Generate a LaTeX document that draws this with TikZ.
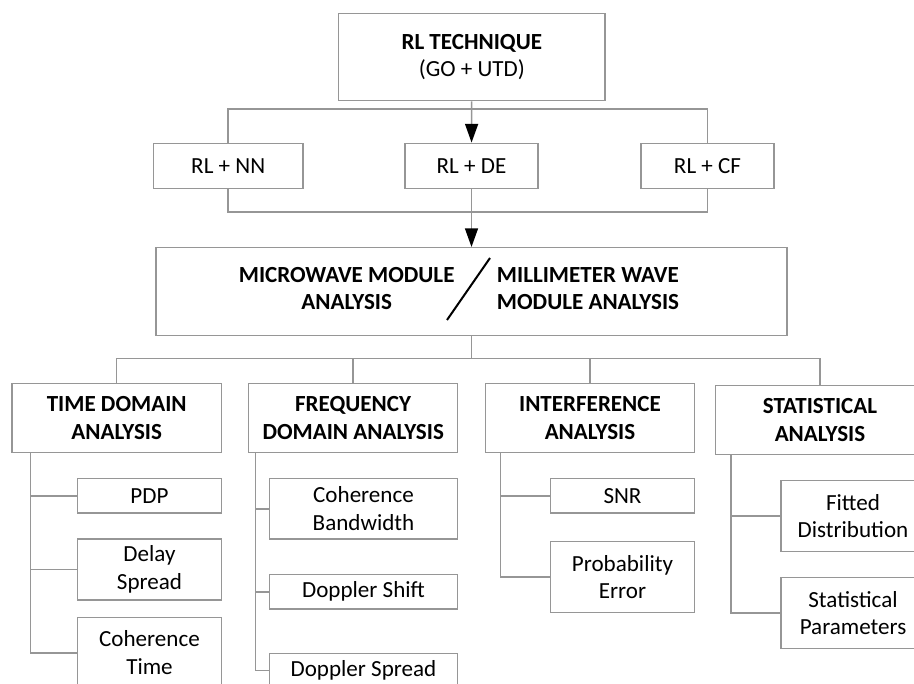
\documentclass[tikz,border=0pt]{standalone}
\usepackage{fontspec}
\setmainfont{Carlito}
\usetikzlibrary{arrows.meta}
\definecolor{linegray}{RGB}{150,150,150}
\newcommand{\fsz}{\fontsize{17.3}{20.8}\selectfont}
\tikzset{
  bx/.style 2 args={draw=linegray, line width=1.1pt, minimum width=#1*0.75pt, minimum height=#2*0.75pt, inner sep=0pt, align=center, font=\fsz, text=black},
  conn/.style={draw=linegray, line width=1.1pt},
  arr/.style={conn, -{Triangle[width=9.75pt,length=14pt,fill=black,color=black]}},
  txt/.style={inner sep=0pt, font=\fsz\bfseries, text=black}
}
\begin{document}
\begin{tikzpicture}[x=0.75pt,y=-0.75pt]
\useasboundingbox (0,0) rectangle (914,684);
\clip (0,0) rectangle (914,684);
% top level
\node[bx={266.4}{87.4}] (top) at (471.8,57) {\textbf{RL TECHNIQUE}\\(GO + UTD)};
\node[bx={149.6}{45}] (nn) at (228.2,165.8) {RL + NN};
\node[bx={133}{45}] (de) at (471.5,165.8) {RL + DE};
\node[bx={133}{45}] (cf) at (707.5,165.8) {RL + CF};
\coordinate (bus1) at (471.5,109);
\coordinate (bus2) at (471.5,212);
\draw[conn] (nn.north) |- (bus1) -| (cf.north);
\draw[conn] (nn.south) |- (bus2) -| (cf.south);
\draw[arr] (top) -- (de);
% module box
\node[bx={631}{88}] (mw) at (471.5,291.7) {};
\draw[arr] (de) -- (mw);
\node[txt, align=center] (mwl) at (346.7,288.5) {MICROWAVE MODULE\\ANALYSIS};
\node[txt, align=left, anchor=west] (mwr) at (496.7,288.5) {MILLIMETER WAVE\\MODULE ANALYSIS};
\draw[black, line width=1.5pt] (447,320) -- (490,258);
% second level
\node[bx={209.3}{69}] (time) at (116.7,417.8) {\textbf{TIME DOMAIN}\\\textbf{ANALYSIS}};
\node[bx={209}{69}] (freq) at (353.2,417.8) {\textbf{FREQUENCY}\\\textbf{DOMAIN ANALYSIS}};
\node[bx={208.6}{69}] (intf) at (590,417.8) {\textbf{INTERFERENCE}\\\textbf{ANALYSIS}};
\node[bx={208.6}{68.6}] (stat) at (820,420) {\textbf{STATISTICAL}\\\textbf{ANALYSIS}};
\coordinate (bus3) at (471.5,358.3);
\draw[conn] (mw.south) -- (bus3);
\draw[conn] (time.north) |- (bus3) -| (stat.north);
\draw[conn] (freq.north) -- (freq.north |- bus3);
\draw[conn] (intf.north) -- (intf.north |- bus3);
% time domain
\node[bx={143.6}{34.3}] (pdp) at (149.5,495.8) {PDP};
\node[bx={143.6}{61}] (delay) at (149.5,569.5) {Delay\\Spread};
\node[bx={143.6}{71}] (coht) at (149.5,652.8) {Coherence\\Time};
\coordinate (tt) at (30.3,452.3);
\draw[conn] (tt) |- (pdp);
\draw[conn] (tt) |- (delay);
\draw[conn] (tt) |- (coht);
% frequency domain
\node[bx={188.4}{60.3}] (cohb) at (363.5,508.8) {Coherence\\Bandwidth};
\node[bx={188.4}{34.3}] (dshift) at (363.5,591.8) {Doppler Shift};
\node[bx={188.4}{34.3}] (dspread) at (363.5,670.5) {Doppler Spread};
\coordinate (ft) at (255.7,452.3);
\draw[conn] (ft) |- (cohb);
\draw[conn] (ft) |- (dshift);
\draw[conn] (ft) |- (dspread);
% interference
\node[bx={143.6}{34.3}] (snr) at (622.5,495.8) {SNR};
\node[bx={143.6}{70.6}] (prob) at (622.5,577) {Probability\\Error};
\coordinate (it) at (500.7,452.3);
\draw[conn] (it) |- (snr);
\draw[conn] (it) |- (prob);
% statistical
\node[bx={144}{71}] (fit) at (853,516.2) {Fitted\\Distribution};
\node[bx={144}{70.6}] (spar) at (853,613) {Statistical\\Parameters};
\coordinate (st) at (731,454.3);
\draw[conn] (st) |- (fit);
\draw[conn] (st) |- (spar);
\end{tikzpicture}
\end{document}
